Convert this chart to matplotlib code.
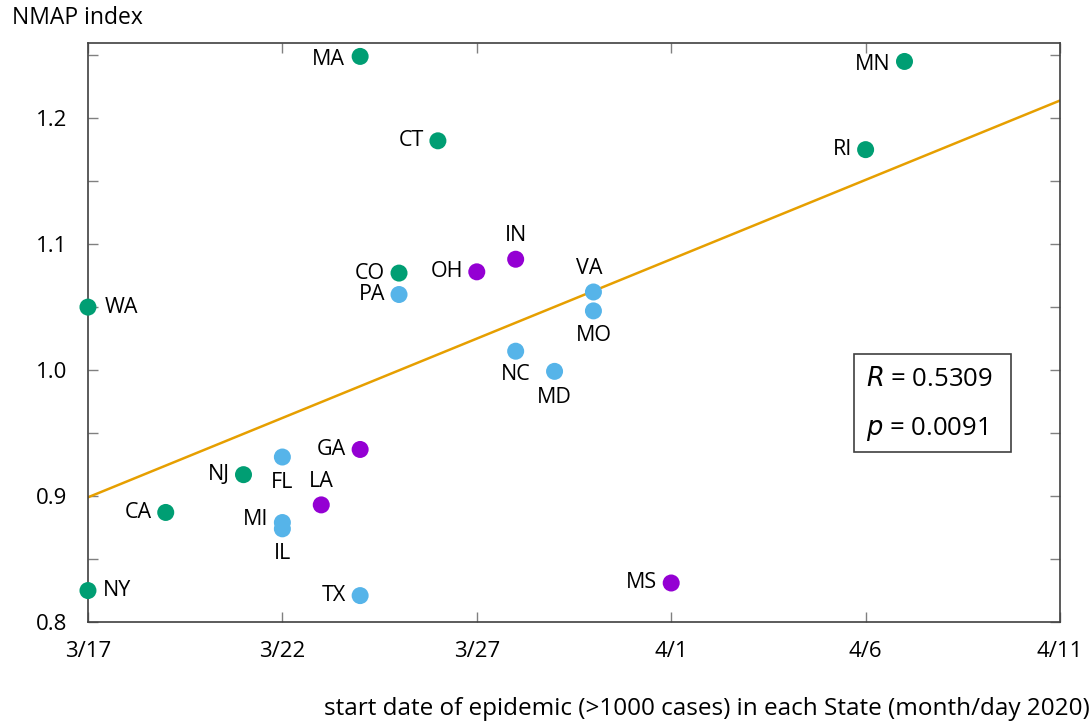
import pandas as pd
import numpy as np
import matplotlib
matplotlib.use("Agg")
import matplotlib.pyplot as plt
from matplotlib.patches import Rectangle

plt.rcParams['font.family'] = ['Open Sans', 'DejaVu Sans']

# start date (>1000 cases) and NMAP index for each state
states = ["WA", "NY", "CA", "NJ", "FL", "MI", "IL", "LA", "GA", "TX", "MA", "CT",
          "CO", "PA", "OH", "IN", "NC", "MD", "VA", "MO", "MS", "RI", "MN"]
start_dates = ["2020-03-17", "2020-03-17", "2020-03-19", "2020-03-21", "2020-03-22",
               "2020-03-22", "2020-03-22", "2020-03-23", "2020-03-24", "2020-03-24",
               "2020-03-24", "2020-03-26", "2020-03-25", "2020-03-25", "2020-03-27",
               "2020-03-28", "2020-03-28", "2020-03-29", "2020-03-30", "2020-03-30",
               "2020-04-01", "2020-04-06", "2020-04-07"]
nmap = [1.050, 0.825, 0.887, 0.917, 0.931, 0.879, 0.874, 0.893, 0.937, 0.821, 1.249, 1.182,
        1.077, 1.060, 1.078, 1.088, 1.015, 0.999, 1.062, 1.047, 0.831, 1.175, 1.245]
group = ["g", "g", "g", "g", "b", "b", "b", "p", "p", "b", "g", "g",
         "g", "b", "p", "p", "b", "b", "b", "b", "p", "g", "g"]

# fitted line
fit_dates = ["2020-03-17", "2020-04-11"]
fit_vals = [0.899, 1.214]

r_value = 0.5309
p_value = 0.0091

colors = {"g": "#009E73", "b": "#56B4E9", "p": "#9400D3"}

# label offsets in points (dx, dy, ha)
offsets = {
    "WA": (12, 0, "left"), "NY": (11, 0, "left"), "CA": (-10, 0, "right"),
    "NJ": (-10, 0, "right"), "FL": (0, -18, "center"), "MI": (-10, 2, "right"),
    "IL": (0, -18, "center"), "LA": (0, 17, "center"), "GA": (-10, 0, "right"),
    "TX": (-10, 0, "right"), "MA": (-11, -2, "right"), "CT": (-10, 0, "right"),
    "CO": (-10, 0, "right"), "PA": (-10, 0, "right"), "OH": (-10, 0, "right"),
    "IN": (0, 17, "center"), "NC": (0, -17, "center"), "MD": (0, -19, "center"),
    "VA": (-3, 17, "center"), "MO": (0, -18, "center"), "MS": (-10, 0, "right"),
    "RI": (-10, 0, "right"), "MN": (-10, -2, "right"),
}

df = pd.DataFrame({"state": states, "date": pd.to_datetime(start_dates),
                   "nmap": nmap, "group": group})

fig = plt.figure(figsize=(10.9, 7.25), dpi=100)
ax = fig.add_axes([0.0807, 0.142, 0.8918, 0.7993])

ax.plot(pd.to_datetime(fit_dates), fit_vals, color="#E69F00", lw=1.8, zorder=2)

ax.scatter(df["date"], df["nmap"], s=150, c=[colors[g] for g in df["group"]],
           edgecolors="none", zorder=3, clip_on=False)

for _, row in df.iterrows():
    dx, dy, ha = offsets[row["state"]]
    ax.annotate(row["state"], (row["date"], row["nmap"]), xytext=(dx, dy),
                textcoords="offset points", ha=ha, va="center", fontsize=15.5)

xticks = pd.date_range("2020-03-17", periods=6, freq="5D")
ax.set_xticks(xticks)
ax.set_xticklabels([f"{d.month}/{d.day}" for d in xticks])
ax.set_xlim(pd.Timestamp("2020-03-17"), pd.Timestamp("2020-04-11"))

yticks = np.arange(0.8, 1.2501, 0.05)
ax.set_yticks(yticks)
ax.set_yticklabels([f"{v:.1f}" if i % 2 == 0 else "" for i, v in enumerate(yticks)])
ax.set_ylim(0.8, 1.26)

ax.tick_params(direction="in", length=7, width=1, color="#808080",
               top=True, right=True, labelsize=16)
ax.tick_params(axis="y", pad=15)
ax.tick_params(axis="x", pad=14)
for sp in ax.spines.values():
    sp.set_color("#404040")
    sp.set_linewidth(1.2)

# R / p box
ax.add_patch(Rectangle((0.788, 0.293), 0.162, 0.17, transform=ax.transAxes,
                       fill=False, edgecolor="#404040", lw=1.2))
ax.text(0.8, 0.418, r"$R$ = " + f"{r_value:.4f}",
        transform=ax.transAxes, fontsize=18.5, va="center", ha="left")
ax.text(0.8, 0.333, r"$p$ = " + f"{p_value:.4f}",
        transform=ax.transAxes, fontsize=18.5, va="center", ha="left")

fig.text(0.011, 0.975, "NMAP index", fontsize=16.5, ha="left", va="center")
fig.text(1.0, 0.022, "start date of epidemic (>1000 cases) in each State (month/day 2020)",
         fontsize=17.5, ha="right", va="center")

fig.savefig("out.png", dpi=100)
